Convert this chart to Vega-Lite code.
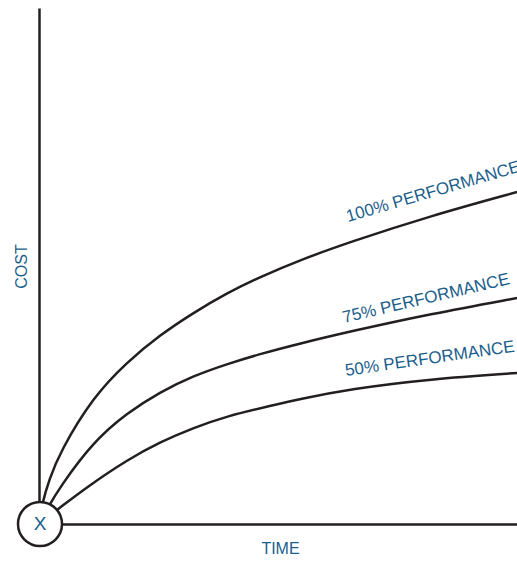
{
  "$schema": "https://vega.github.io/schema/vega-lite/v6.json",
  "width": 478,
  "height": 516,
  "autosize": {"type": "none"},
  "padding": {"left": 39, "top": 8, "right": 0, "bottom": 38},
  "background": "white",
  "config": {
    "view": {"stroke": null},
    "font": "Liberation Sans"
  },
  "datasets": {
    "curves": [
      {"series": "100%", "time": 0, "cost": 0},
      {"series": "100%", "time": 3, "cost": 20},
      {"series": "100%", "time": 10, "cost": 44},
      {"series": "100%", "time": 21, "cost": 72},
      {"series": "100%", "time": 54, "cost": 127},
      {"series": "100%", "time": 88, "cost": 162},
      {"series": "100%", "time": 121, "cost": 189},
      {"series": "100%", "time": 154, "cost": 211},
      {"series": "100%", "time": 188, "cost": 231},
      {"series": "100%", "time": 221, "cost": 247},
      {"series": "100%", "time": 261, "cost": 264},
      {"series": "100%", "time": 311, "cost": 282},
      {"series": "100%", "time": 391, "cost": 308},
      {"series": "100%", "time": 478, "cost": 332},
      {"series": "75%", "time": 0, "cost": 0},
      {"series": "75%", "time": 8, "cost": 15},
      {"series": "75%", "time": 21, "cost": 37},
      {"series": "75%", "time": 54, "cost": 82},
      {"series": "75%", "time": 88, "cost": 111},
      {"series": "75%", "time": 121, "cost": 132},
      {"series": "75%", "time": 154, "cost": 148},
      {"series": "75%", "time": 188, "cost": 160},
      {"series": "75%", "time": 221, "cost": 170},
      {"series": "75%", "time": 261, "cost": 180.5},
      {"series": "75%", "time": 311, "cost": 192.5},
      {"series": "75%", "time": 391, "cost": 210},
      {"series": "75%", "time": 478, "cost": 226},
      {"series": "50%", "time": 0, "cost": 0},
      {"series": "50%", "time": 23, "cost": 18},
      {"series": "50%", "time": 48, "cost": 37},
      {"series": "50%", "time": 88, "cost": 64},
      {"series": "50%", "time": 121, "cost": 82},
      {"series": "50%", "time": 154, "cost": 96},
      {"series": "50%", "time": 188, "cost": 108},
      {"series": "50%", "time": 231, "cost": 118},
      {"series": "50%", "time": 261, "cost": 125},
      {"series": "50%", "time": 311, "cost": 135},
      {"series": "50%", "time": 391, "cost": 145},
      {"series": "50%", "time": 478, "cost": 151}
    ],
    "labels": [
      {"label": "100% PERFORMANCE", "time": 309, "cost": 302},
      {"label": "75% PERFORMANCE", "time": 305, "cost": 201},
      {"label": "50% PERFORMANCE", "time": 307, "cost": 148}
    ],
    "origin": [
      {"name": "X", "time": 1, "cost": 0}
    ]
  },
  "encoding": {
    "x": {
      "field": "time", "type": "quantitative",
      "scale": {"domain": [0, 478], "nice": false, "zero": false},
      "axis": {
        "title": "TIME", "grid": false, "ticks": false, "labels": false,
        "domainColor": "#231f20", "domainWidth": 2.5,
        "titleFontSize": 16, "titleFontWeight": "normal", "titleColor": "#1b5e8c",
        "titleFont": "Liberation Sans", "titlePadding": 16, "titleX": 241
      }
    },
    "y": {
      "field": "cost", "type": "quantitative",
      "scale": {"domain": [0, 516], "nice": false, "zero": false},
      "axis": {
        "title": "COST", "grid": false, "ticks": false, "labels": false,
        "domainColor": "#231f20", "domainWidth": 2.5,
        "titleFontSize": 16, "titleFontWeight": "normal", "titleColor": "#1b5e8c",
        "titleFont": "Liberation Sans", "titlePadding": 10
      }
    }
  },
  "layer": [
    {
      "data": {"name": "curves"},
      "mark": {"type": "line", "interpolate": "basis", "color": "#231f20", "strokeWidth": 2.5},
      "encoding": {"detail": {"field": "series"}}
    },
    {
      "data": {"name": "origin"},
      "mark": {"type": "point", "shape": "circle", "filled": false, "fill": "white", "fillOpacity": 1, "stroke": "#231f20", "strokeWidth": 2.5, "opacity": 1, "size": 1936},
      "encoding": {}
    },
    {
      "data": {"name": "origin"},
      "mark": {"type": "text", "fontSize": 19, "color": "#1b5e8c", "align": "center", "baseline": "middle"},
      "encoding": {"text": {"field": "name"}}
    },
    {
      "data": {"name": "labels"},
      "transform": [{"filter": "datum.label === '100% PERFORMANCE'"}],
      "mark": {"type": "text", "fontSize": 17, "color": "#1b5e8c", "align": "left", "baseline": "alphabetic", "angle": -16.3},
      "encoding": {"text": {"field": "label"}}
    },
    {
      "data": {"name": "labels"},
      "transform": [{"filter": "datum.label === '75% PERFORMANCE'"}],
      "mark": {"type": "text", "fontSize": 17, "color": "#1b5e8c", "align": "left", "baseline": "alphabetic", "angle": -13.2},
      "encoding": {"text": {"field": "label"}}
    },
    {
      "data": {"name": "labels"},
      "transform": [{"filter": "datum.label === '50% PERFORMANCE'"}],
      "mark": {"type": "text", "fontSize": 17, "color": "#1b5e8c", "align": "left", "baseline": "alphabetic", "angle": -8.2},
      "encoding": {"text": {"field": "label"}}
    }
  ]
}
